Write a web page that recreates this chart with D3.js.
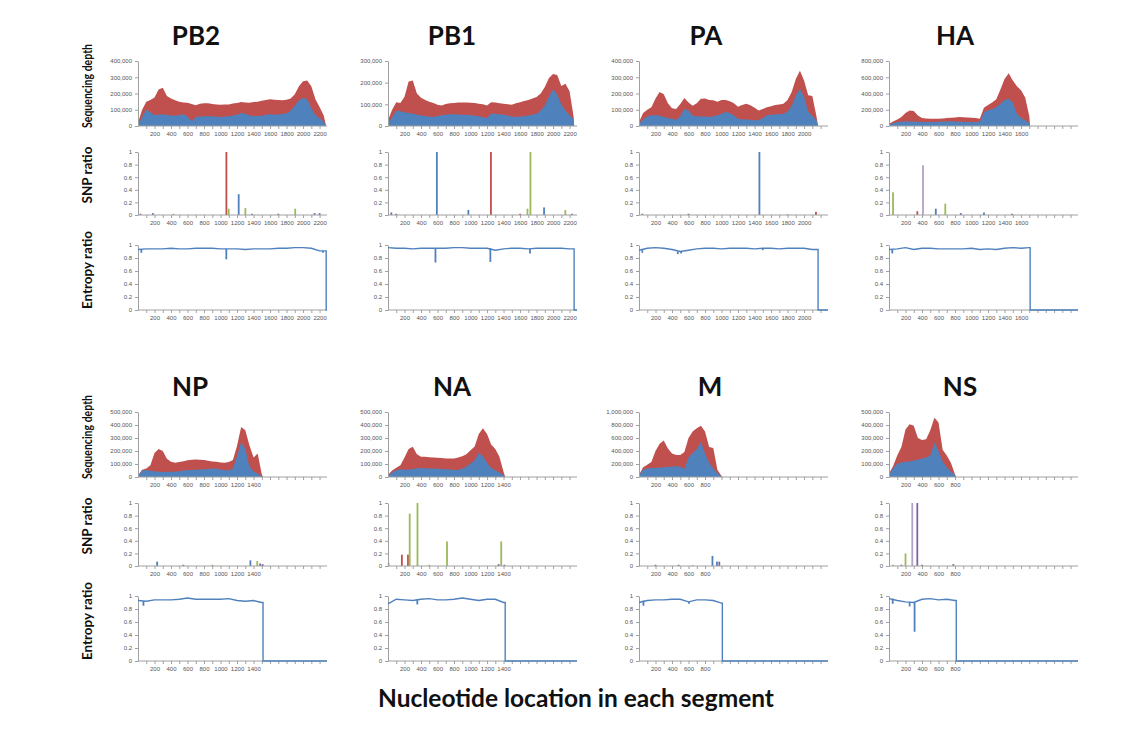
<!DOCTYPE html>
<html><head><meta charset="utf-8">
<script src="https://cdn.jsdelivr.net/npm/d3@7"></script>
<style>body{margin:0;background:#fff}</style>
</head><body><svg id="c" width="1138" height="729"></svg>
<script>
// ---------------- DATA ----------------
const segments = ["PB2","PB1","PA","HA","NP","NA","M","NS"];
const segLength = [2280, 2255, 2170, 1710, 1515, 1420, 1010, 815];
const depthMax = [400000, 300000, 400000, 800000, 500000, 500000, 1000000, 500000];
const depthTickStep = [100000, 100000, 100000, 200000, 100000, 100000, 200000, 100000];
const xLabelMax = [2200, 2200, 2000, 1600, 1400, 1400, 800, 800];
const depthStep = 50;    // nt between depth samples (values in thousands of reads)
const entropyStep = 100; // nt between entropy baseline samples

const totalPB2 = [20,100,150,160,175,225,235,185,170,158,150,145,143,135,128,137,140,140,135,132,131,132,133,138,142,148,145,143,148,150,155,160,165,162,160,158,162,170,195,245,275,280,245,165,117,65];
const lowerPB2 = [5,55,100,85,68,70,72,68,66,62,68,72,58,30,55,58,60,60,60,58,56,58,60,64,70,80,75,65,62,62,63,70,72,70,72,74,78,95,125,158,172,165,110,68,48,28];
const totalPB1 = [26,75,110,106,135,205,210,150,130,120,112,106,98,95,102,105,106,108,108,108,107,106,103,100,95,110,108,105,103,100,98,105,110,115,120,127,134,150,180,222,240,235,185,195,160,40];
const lowerPB1 = [11,40,70,68,64,60,58,52,48,46,44,42,46,50,52,54,54,53,52,52,50,48,45,40,37,58,56,54,52,48,44,42,44,45,48,52,57,72,95,135,170,145,100,70,50,30];
const totalPA = [25,80,100,115,170,209,195,140,110,105,135,172,145,125,140,168,170,160,158,150,160,160,152,140,118,130,137,128,112,96,105,115,122,130,133,137,160,210,290,340,280,190,185,60];
const lowerPA = [14,40,58,66,66,64,56,50,44,38,60,105,95,65,60,58,58,55,60,66,75,86,80,65,45,42,40,38,36,35,50,66,70,72,72,76,90,125,190,230,180,90,62,35];
const totalHA = [29,55,80,110,160,190,185,130,100,92,90,90,90,92,98,103,106,110,108,105,103,98,90,225,260,290,330,450,580,650,560,490,440,350,120];
const lowerHA = [16,35,48,52,57,56,54,52,50,49,49,50,52,54,56,57,55,53,52,50,49,48,48,170,195,205,230,275,320,336,290,150,100,75,35];
const totalNP = [13,55,65,90,185,215,200,140,118,110,115,122,128,132,135,133,130,125,120,117,112,110,115,130,240,385,360,245,150,180,20];
const lowerNP = [2,52,52,48,45,40,39,40,40,40,45,50,52,55,56,57,60,62,65,63,58,52,52,65,160,270,215,80,45,25,5];
const totalNA = [18,50,72,90,150,215,232,175,155,155,152,150,148,146,143,142,143,150,160,175,205,235,330,375,330,250,215,155,40];
const lowerNA = [5,35,52,60,55,58,62,68,70,68,66,65,63,61,60,58,56,54,65,78,104,128,185,160,110,70,52,35,12];
const totalM = [36,150,190,230,400,510,560,440,360,337,340,385,600,700,750,790,700,460,445,110,15];
const lowerM = [26,110,132,138,140,145,150,155,162,166,156,125,300,370,430,540,360,220,130,60,8];
const totalNS = [26,85,165,230,365,405,395,300,285,290,360,455,420,210,165,110,20];
const lowerNS = [13,70,102,112,117,120,126,132,142,150,165,265,200,120,75,40,15];

const entropyPB2 = [0.93,0.94,0.94,0.94,0.95,0.94,0.94,0.95,0.95,0.95,0.94,0.94,0.94,0.93,0.94,0.94,0.94,0.95,0.95,0.96,0.96,0.95,0.91];
const entropyPB1 = [0.96,0.95,0.95,0.94,0.95,0.95,0.95,0.95,0.96,0.96,0.95,0.95,0.95,0.92,0.94,0.95,0.95,0.94,0.95,0.95,0.95,0.95,0.94];
const entropyPA = [0.92,0.95,0.96,0.95,0.93,0.90,0.92,0.94,0.95,0.95,0.94,0.95,0.95,0.95,0.94,0.95,0.95,0.94,0.95,0.95,0.95,0.93];
const entropyHA = [0.93,0.94,0.96,0.93,0.95,0.95,0.94,0.94,0.94,0.94,0.95,0.93,0.94,0.93,0.95,0.96,0.95,0.96];
const entropyNP = [0.93,0.92,0.94,0.94,0.94,0.95,0.97,0.95,0.95,0.95,0.95,0.96,0.93,0.92,0.93,0.90];
const entropyNA = [0.88,0.95,0.94,0.93,0.95,0.96,0.94,0.94,0.95,0.97,0.95,0.93,0.95,0.95,0.90];
const entropyM = [0.90,0.93,0.94,0.94,0.95,0.95,0.91,0.94,0.94,0.93,0.89];
const entropyNS = [0.96,0.93,0.91,0.90,0.95,0.96,0.94,0.95,0.93];

// narrow entropy dips: [position, entropy ratio]
const dipsPB2 = [[40,0.88],[1070,0.78],[2240,0.88]];
const dipsPB1 = [[575,0.73],[1240,0.74],[1720,0.87]];
const dipsPA = [[40,0.88],[470,0.86],[510,0.87],[1500,0.92]];
const dipsHA = [[40,0.87]];
const dipsNP = [[66,0.85]];
const dipsNA = [[355,0.87]];
const dipsM = [[54,0.85],[605,0.88]];
const dipsNS = [[45,0.88],[250,0.84],[310,0.45]];

// SNP ratio bars: [position, ratio, variant class]
const snpPB2 = [[30,0.02,"T"],[180,0.03,"T"],[430,0.02,"C"],[1071,1.0,"G"],[1099,0.1,"C"],[1220,0.33,"A"],[1301,0.11,"C"],[1380,0.02,"T"],[1700,0.02,"T"],[1905,0.1,"C"],[2140,0.03,"T"],[2200,0.03,"A"]];
const snpPB1 = [[40,0.04,"T"],[100,0.02,"T"],[592,1.0,"A"],[974,0.08,"A"],[1247,1.0,"G"],[1600,0.02,"G"],[1690,0.1,"C"],[1726,1.0,"C"],[1891,0.12,"A"],[2149,0.08,"C"],[2230,0.02,"T"]];
const snpPA = [[40,0.02,"T"],[600,0.02,"T"],[1459,1.0,"A"],[1800,0.01,"T"],[2144,0.05,"G"]];
const snpHA = [[49,0.36,"C"],[343,0.06,"G"],[412,0.79,"X"],[567,0.1,"A"],[682,0.18,"C"],[870,0.03,"T"],[1151,0.04,"A"],[1490,0.02,"T"]];
const snpNP = [[232,0.07,"A"],[550,0.02,"T"],[900,0.02,"C"],[1362,0.09,"A"],[1445,0.08,"C"],[1480,0.04,"T"],[1510,0.03,"T"]];
const snpNA = [[8,0.05,"C"],[168,0.18,"G"],[242,0.18,"G"],[263,0.83,"C"],[357,1.0,"C"],[500,0.02,"C"],[715,0.39,"C"],[1340,0.03,"T"],[1372,0.39,"C"],[1410,0.02,"T"]];
const snpM = [[200,0.02,"T"],[480,0.02,"T"],[650,0.01,"T"],[890,0.16,"A"],[944,0.07,"A"],[973,0.07,"T"]];
const snpNS = [[50,0.02,"C"],[150,0.02,"T"],[200,0.2,"C"],[282,1.0,"X"],[343,1.0,"T"],[400,0.02,"T"],[780,0.03,"T"]];

const ratioTicks = [0, 0.2, 0.4, 0.6, 0.8, 1];
const rowLabels = ["Sequencing depth", "SNP ratio", "Entropy ratio"];
const xTitle = "Nucleotide location in each segment";

// tables built from the arrays above
const depthTotal = [totalPB2,totalPB1,totalPA,totalHA,totalNP,totalNA,totalM,totalNS];
const depthLower = [lowerPB2,lowerPB1,lowerPA,lowerHA,lowerNP,lowerNA,lowerM,lowerNS];
const entropyBase = [entropyPB2,entropyPB1,entropyPA,entropyHA,entropyNP,entropyNA,entropyM,entropyNS];
const entropyDips = [dipsPB2,dipsPB1,dipsPA,dipsHA,dipsNP,dipsNA,dipsM,dipsNS];
const snpBars = [snpPB2,snpPB1,snpPA,snpHA,snpNP,snpNA,snpM,snpNS];

// ---------------- LAYOUT ----------------
const svg = d3.select("#c");
const X_MAX = 2290, PW = 189;
const colX = [138, 388, 639, 889];
const rowOffset = [0, 351];
const band = {depth:[61,126], snp:[152,215], ent:[245,310]};
const titleX = [196, 452, 706, 955, 190, 452, 710, 960];
const RED = "#C0504D", BLUE = "#4F81BD";
const snpColor = d3.scaleOrdinal().domain(["A","G","C","T","X"])
  .range(["#4F81BD","#C0504D","#9BBB59","#8064A2","#B3A2C7"]);
const AXIS = "#a0a0a0", TICKTXT = "#555";
const FONT = "Lato, 'Open Sans', sans-serif";

function styleAxis(g){
  g.select(".domain").attr("stroke", AXIS).attr("stroke-width", 1);
  g.selectAll(".tick line").attr("stroke", AXIS);
  g.selectAll(".tick text").attr("fill", TICKTXT)
    .attr("font-family", "'Liberation Sans', Arial, sans-serif").attr("font-size", 6);
}

function xAxis(g, x, y0, i){
  const ax = d3.axisBottom(x).tickValues(d3.range(100, 2290, 100))
    .tickSize(3).tickSizeOuter(0)
    .tickFormat(d => (d % 200 === 0 && d <= xLabelMax[i]) ? d : "");
  const gg = g.append("g").attr("transform", `translate(0,${y0})`).call(ax);
  gg.select(".domain").attr("d", `M${x.range()[0]},0H${x.range()[1]}`);
  gg.selectAll(".tick text").attr("y", 6);
  styleAxis(gg);
}

function yAxis(g, y, x0, ticks, fmt){
  const ax = d3.axisLeft(y).tickValues(ticks).tickSize(3).tickSizeOuter(0).tickFormat(fmt);
  const gg = g.append("g").attr("transform", `translate(${x0},0)`).call(ax);
  styleAxis(gg);
}

segments.forEach((name, i) => {
  const col = i % 4, row = Math.floor(i / 4);
  const x0 = colX[col], dy = rowOffset[row];
  const len = segLength[i];
  const x = d3.scaleLinear().domain([0, X_MAX]).range([x0, x0 + PW]);
  const g = svg.append("g");

  // title
  g.append("text").attr("x", titleX[i]).attr("y", 45 + dy).attr("text-anchor", "middle")
    .attr("font-family", FONT).attr("font-weight", 700).attr("font-size", 26).attr("fill", "#111")
    .text(name);

  // ---- sequencing depth ----
  const yD = d3.scaleLinear().domain([0, depthMax[i]]).range([band.depth[1] + dy, band.depth[0] + dy]);
  const pts = depthTotal[i].map((v, k) => ({p: k * depthStep, t: v * 1000, l: depthLower[i][k] * 1000}));
  pts.push({p: len, t: 0, l: 0});
  g.append("path").datum(pts).attr("fill", RED)
    .attr("d", d3.area().x(d => x(d.p)).y0(yD(0)).y1(d => yD(d.t)));
  g.append("path").datum(pts).attr("fill", BLUE)
    .attr("d", d3.area().x(d => x(d.p)).y0(yD(0)).y1(d => yD(d.l)));
  yAxis(g, yD, x0, d3.range(0, depthMax[i] + 1, depthTickStep[i]), d3.format(","));
  xAxis(g, x, yD(0), i);

  // ---- SNP ratio ----
  const yS = d3.scaleLinear().domain([0, 1]).range([band.snp[1] + dy, band.snp[0] + dy]);
  g.append("g").selectAll("rect").data(snpBars[i]).join("rect")
    .attr("x", d => x(d[0]) - 0.9).attr("width", 1.8)
    .attr("y", d => yS(d[1])).attr("height", d => yS(0) - yS(d[1]))
    .attr("fill", d => snpColor(d[2]));
  yAxis(g, yS, x0, ratioTicks, d3.format("~g"));
  xAxis(g, x, yS(0), i);

  // ---- entropy ratio ----
  const yE = d3.scaleLinear().domain([0, 1]).range([band.ent[1] + dy, band.ent[0] + dy]);
  const base = entropyBase[i];
  const ep = base.map((v, k) => [k * entropyStep, v]);
  ep.push([len, base[base.length - 1]], [len, 0], [X_MAX, 0]);
  yAxis(g, yE, x0, ratioTicks, d3.format("~g"));
  xAxis(g, x, yE(0), i);
  g.append("path").datum(ep).attr("fill", "none").attr("stroke", BLUE).attr("stroke-width", 1.4)
    .attr("d", d3.line().x(d => x(d[0])).y(d => yE(d[1])));
  g.append("g").selectAll("path").data(entropyDips[i]).join("path")
    .attr("stroke", BLUE).attr("stroke-width", 1.8).attr("fill", "none")
    .attr("d", d => {
      const b = base[Math.min(base.length - 1, Math.round(d[0] / entropyStep))];
      return `M${x(d[0])},${yE(b)}V${yE(d[1])}`;
    });

  // row labels (first column only)
  if (col === 0) {
    const centers = [86 + dy, 175 + dy, 270 + dy];
    const lens = [84, 57, 78];
    rowLabels.forEach((lab, r) => {
      g.append("text").attr("transform", `translate(92,${centers[r]}) rotate(-90)`)
        .attr("text-anchor", "middle").attr("font-family", FONT).attr("font-weight", 700)
        .attr("font-size", 13).attr("fill", "#111")
        .attr("textLength", lens[r]).attr("lengthAdjust", "spacingAndGlyphs")
        .text(lab);
    });
  }
});

svg.append("text").attr("x", 576).attr("y", 707).attr("text-anchor", "middle")
  .attr("font-family", FONT).attr("font-weight", 700).attr("font-size", 24).attr("fill", "#111")
  .attr("textLength", 396).attr("lengthAdjust", "spacingAndGlyphs")
  .text(xTitle);
</script></body></html>
